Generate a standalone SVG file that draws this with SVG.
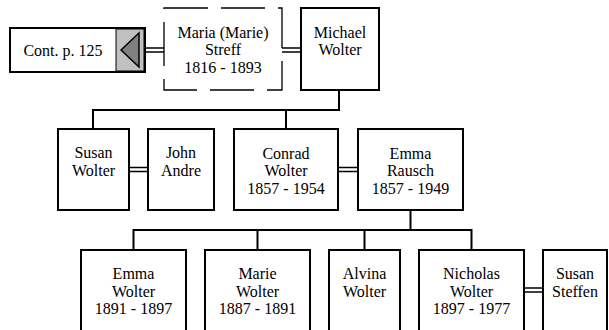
<svg xmlns="http://www.w3.org/2000/svg" width="609" height="330" viewBox="0 0 609 330">
<style>
.box{fill:#fff;stroke:#000;stroke-width:2}
.dash{fill:#fff;stroke:#000;stroke-width:1.3;stroke-dasharray:44 13}
.ln{fill:none;stroke:#000;stroke-width:2}
.dbl{fill:none;stroke:#000;stroke-width:1.4}
text{font-family:'Liberation Serif','DejaVu Serif',serif;font-size:16px;fill:#000;text-anchor:middle}
</style>
<rect width="609" height="330" fill="#fff"/>
<g id="connectors">
<path class="dbl" d="M145 48H164M145 52H164"/>
<path class="dbl" d="M282 48H301M282 52H301"/>
<path class="ln" d="M339 90V110H93V129M286 110V129"/>
<path class="dbl" d="M129 167.5H148M129 171.5H148"/>
<path class="dbl" d="M338 167.5H358M338 171.5H358"/>
<path class="ln" d="M410.5 210V230M133.5 250V230H471.5V250M257.5 230V250M364.5 230V250"/>
<path class="dbl" d="M524 288H543M524 292H543"/>
</g>
<g font-family="Liberation Serif, DejaVu Serif, serif" font-size="16">
<g id="cont">
<rect class="box" x="10" y="28" width="135" height="44"/>
<rect x="116" y="29" width="28" height="42" fill="#c0c0c0" stroke="#000" stroke-width="1"/>
<polygon points="121,50 139,33 139,67" fill="#808080" stroke="#000" stroke-width="1.5"/>
<text x="63" y="55.5">Cont. p. 125</text>
</g>
<g id="maria">
<rect class="dash" x="164" y="8" width="118" height="82"/>
<text x="223" y="37.5">Maria (Marie)</text>
<text x="223" y="55">Streff</text>
<text x="223" y="72.5">1816 - 1893</text>
</g>
<g id="michael">
<rect class="box" x="301" y="8" width="78" height="82"/>
<text x="340" y="37.5">Michael</text>
<text x="340" y="55">Wolter</text>
</g>
<g id="susan-wolter">
<rect class="box" x="58" y="129" width="71" height="81"/>
<text x="93.5" y="158">Susan</text>
<text x="93.5" y="175.5">Wolter</text>
</g>
<g id="john-andre">
<rect class="box" x="148" y="129" width="66" height="81"/>
<text x="181" y="158">John</text>
<text x="181" y="175.5">Andre</text>
</g>
<g id="conrad-wolter">
<rect class="box" x="234" y="129" width="104" height="81"/>
<text x="286" y="158.5">Conrad</text>
<text x="286" y="176">Wolter</text>
<text x="286" y="193.5">1857 - 1954</text>
</g>
<g id="emma-rausch">
<rect class="box" x="358" y="129" width="105" height="81"/>
<text x="410.5" y="158.5">Emma</text>
<text x="410.5" y="176">Rausch</text>
<text x="410.5" y="193.5">1857 - 1949</text>
</g>
<g id="emma-wolter">
<rect class="box" x="81" y="250" width="105" height="82"/>
<text x="133.5" y="279">Emma</text>
<text x="133.5" y="296.5">Wolter</text>
<text x="133.5" y="314">1891 - 1897</text>
</g>
<g id="marie-wolter">
<rect class="box" x="205" y="250" width="105" height="82"/>
<text x="257.5" y="279">Marie</text>
<text x="257.5" y="296.5">Wolter</text>
<text x="257.5" y="314">1887 - 1891</text>
</g>
<g id="alvina-wolter">
<rect class="box" x="329" y="250" width="71" height="82"/>
<text x="364.5" y="279">Alvina</text>
<text x="364.5" y="296.5">Wolter</text>
</g>
<g id="nicholas-wolter">
<rect class="box" x="419" y="250" width="105" height="82"/>
<text x="471.5" y="279">Nicholas</text>
<text x="471.5" y="296.5">Wolter</text>
<text x="471.5" y="314">1897 - 1977</text>
</g>
<g id="susan-steffen">
<rect class="box" x="543" y="250" width="64" height="82"/>
<text x="575" y="279">Susan</text>
<text x="575" y="296.5">Steffen</text>
</g>
</g>
</svg>
